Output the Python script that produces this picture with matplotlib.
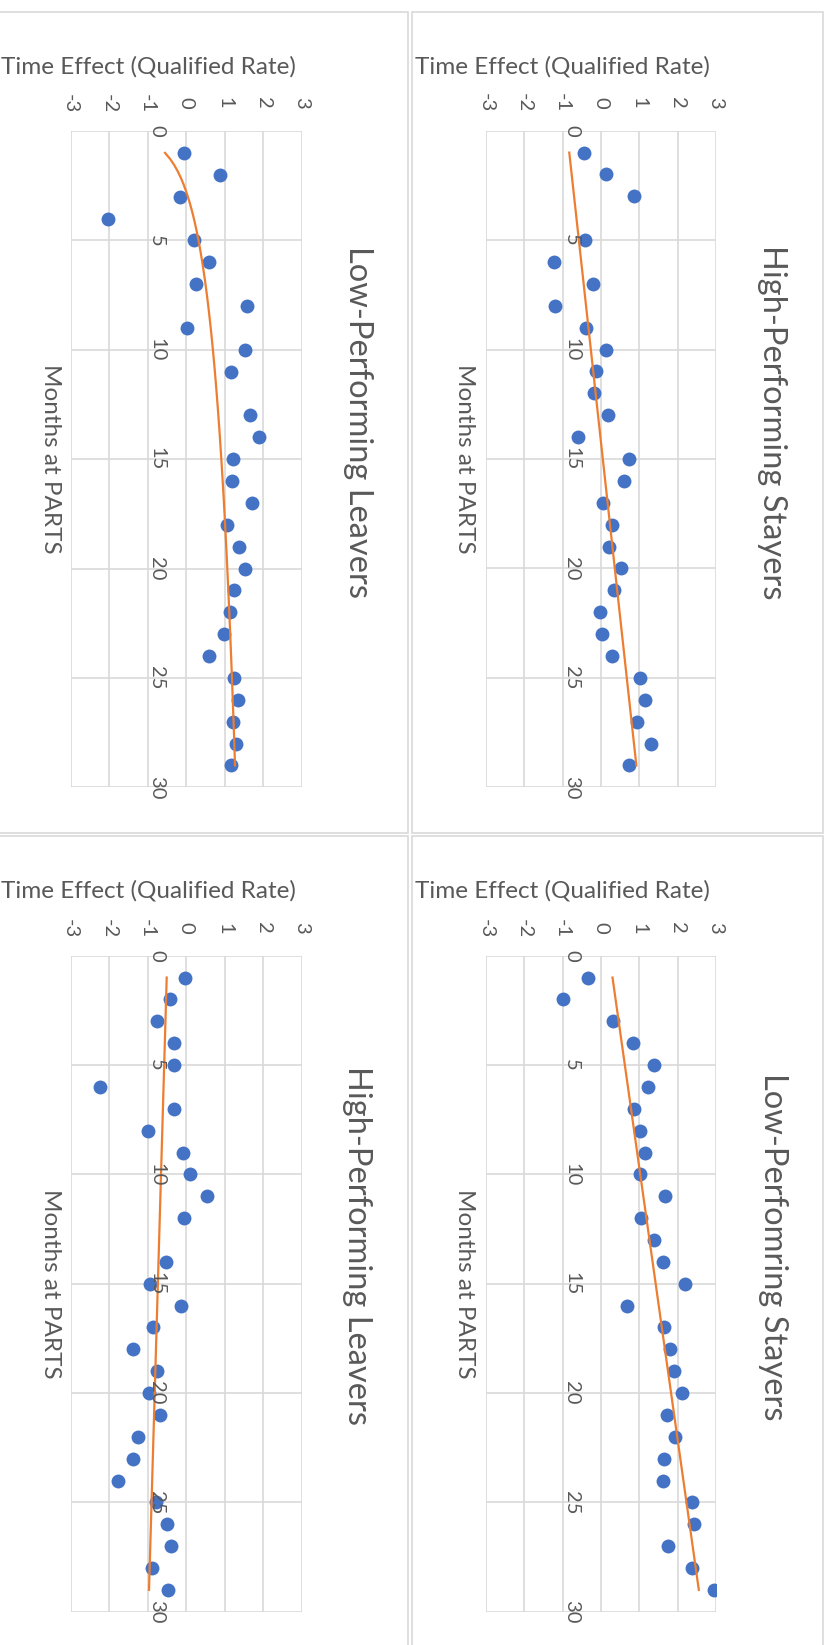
import numpy as np
import matplotlib
matplotlib.use('Agg')
import matplotlib.pyplot as plt
from matplotlib.patches import Rectangle

hps_months = [1, 2, 3] + list(range(5, 30))
hps_vals = [-0.44, 0.14, 0.87, -0.43, -1.23, -0.21, -1.20, -0.40, 0.12, -0.13,
            -0.18, 0.18, -0.61, 0.73, 0.61, 0.04, 0.28, 0.21, 0.51, 0.34,
            -0.03, 0.03, 0.28, 1.01, 1.15, 0.93, 1.30, 0.72]

lpl_months = list(range(1, 12)) + list(range(13, 30))
lpl_vals = [-0.05, 0.89, -0.16, -2.03, 0.19, 0.58, 0.25, 1.58, 0.02, 1.54,
            1.16, 1.65, 1.89, 1.21, 1.18, 1.72, 1.05, 1.37, 1.54, 1.25,
            1.15, 0.97, 0.60, 1.25, 1.35, 1.21, 1.30, 1.16]

lps_months = list(range(1, 30))
lps_vals = [-0.35, -1.00, 0.32, 0.83, 1.37, 1.23, 0.86, 1.01, 1.15, 1.01,
            1.68, 1.05, 1.37, 1.62, 2.19, 0.68, 1.64, 1.79, 1.91, 2.10,
            1.73, 1.92, 1.64, 1.63, 2.37, 2.43, 1.74, 2.37, 2.94]

hpl_months = list(range(1, 13)) + list(range(14, 30))
hpl_vals = [-0.04, -0.41, -0.75, -0.32, -0.31, -2.24, -0.31, -1.00, -0.09, 0.10,
            0.54, -0.06, -0.52, -0.95, -0.14, -0.85, -1.38, -0.77, -0.97, -0.68,
            -1.26, -1.38, -1.76, -0.78, -0.50, -0.39, -0.89, -0.48]

# trendline coefficients (slope/intercept, log: a*ln(m)+b)
hps_trend = ('linear', 0.0625, -0.89)
lpl_trend = ('log', 0.54, -0.55)
lps_trend = ('linear', 0.0804, 0.22)
hpl_trend = ('linear', -0.0164, -0.49)

effect_ticks = [-3, -2, -1, 0, 1, 2, 3]
month_ticks = [0, 5, 10, 15, 20, 25, 30]

W, H = 831, 1645
TXT = '#595959'
GRID = '#d9d9d9'
DOT = '#4472c4'
TREND = '#ed7d31'

plt.rcParams['font.family'] = ['Lato', 'DejaVu Sans']


def fx(x):
    return x / float(W)


def fy(y):
    return 1 - y / float(H)


def trend_curve(trend, m0, m1):
    kind, a, b = trend
    m = np.linspace(m0, m1, 100)
    if kind == 'log':
        return m, a * np.log(m) + b
    return m, a * m + b


def doPanel(fig, box, area, title, title_xy, months, vals, trend, ytxt, yticks_y, months_x):
    # chart border
    fig.patches.append(Rectangle((fx(box[0]), fy(box[3])), fx(box[2] - box[0]),
                                 (box[3] - box[1]) / float(H), transform=fig.transFigure,
                                 fill=False, edgecolor=GRID, lw=1.2))

    ax = fig.add_axes([fx(area[0]), fy(area[3]), fx(area[2] - area[0]),
                       (area[3] - area[1]) / float(H)])
    ax.set_xlim(-3, 3)
    ax.set_ylim(30, 0)
    ax.set_xticks(effect_ticks)
    ax.set_yticks(month_ticks)
    ax.grid(True, color=GRID, lw=1.2)
    ax.tick_params(length=0, labelbottom=False, labelleft=False)
    for s in ax.spines.values():
        s.set_visible(False)

    ax.scatter(vals, months, s=100, color=DOT, linewidths=0, zorder=3)
    m, t = trend_curve(trend, months[0], months[-1])
    ax.plot(t, m, color=TREND, lw=1.6, zorder=4)

    for v in effect_ticks:
        ax.text(v, yticks_y, str(v), rotation=-90, ha='center', va='center',
                fontsize=14.5, color=TXT, clip_on=False)
    for mm in month_ticks:
        ax.text(-0.99, mm, str(mm), rotation=-90, ha='left', va='center',
                fontsize=14.5, color=TXT, clip_on=False, zorder=5)

    fig.text(fx(ytxt[0]), fy(ytxt[1]), 'Time Effect (Qualified Rate)', ha='center',
             va='center', fontsize=17.5, color=TXT)
    fig.text(fx(months_x[0]), fy(months_x[1]), 'Months at PARTS', rotation=-90,
             ha='center', va='center', fontsize=17.5, color=TXT)
    fig.text(fx(title_xy[0]), fy(title_xy[1]), title, rotation=-90, ha='center',
             va='center', fontsize=23.5, color=TXT)


fig = plt.figure(figsize=(W / 100.0, H / 100.0), dpi=100)

doPanel(fig, (412, 12, 823, 833), (486, 130.7, 716, 787.3), 'High-Performing Stayers',
        (772, 422), hps_months, hps_vals, hps_trend, (562, 67), -1.27, (465, 459))
doPanel(fig, (-1, 12, 408, 833), (70.7, 131, 301.7, 787.3), 'Low-Performing Leavers',
        (358, 422), lpl_months, lpl_vals, lpl_trend, (148, 67), -1.27, (50, 459))
doPanel(fig, (412, 836, 823, 1650), (486, 955.7, 716, 1611.7), 'Low-Perfomring Stayers',
        (773, 1247), lps_months, lps_vals, lps_trend, (562, 891), -1.25, (465, 1284))
doPanel(fig, (-1, 836, 408, 1650), (70.7, 955.7, 301.7, 1611.7), 'High-Performing Leavers',
        (357, 1246), hpl_months, hpl_vals, hpl_trend, (148, 891), -1.25, (50, 1284))

plt.savefig('out.png', dpi=100)
